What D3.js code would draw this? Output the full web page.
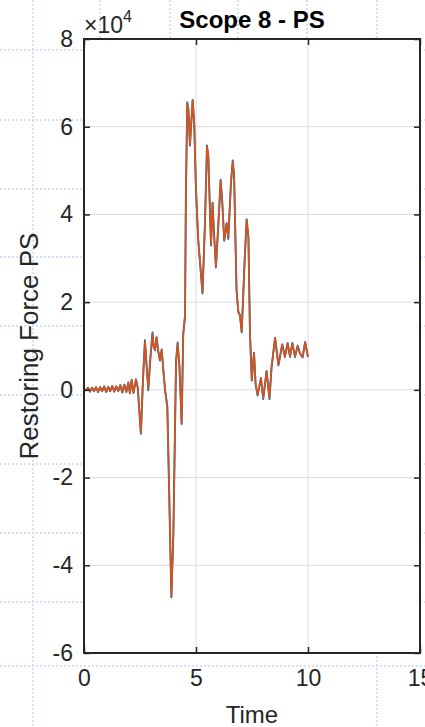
<!DOCTYPE html>
<html>
<head>
<meta charset="utf-8">
<script src="https://cdn.jsdelivr.net/npm/d3@7"></script>
<style>
    body { margin: 0; background: #ffffff; }
    #chart { width: 425px; height: 727px; }
    text { font-family: 'Liberation Sans', Arial, sans-serif; fill: #262626; }
</style>
</head>
<body>
<div id="chart"></div>
<script>
// Scope 8 - PS : restoring force vs time (values in N)
const timeValues = [0, 0.09, 0.18, 0.27, 0.36, 0.45, 0.54, 0.63, 0.72, 0.81, 0.90, 0.99, 1.08, 1.17, 1.26, 1.35, 1.44, 1.53, 1.62, 1.71, 1.80, 1.89, 1.98, 2.05, 2.13, 2.21, 2.32, 2.40, 2.54, 2.63, 2.72, 2.79, 2.87, 2.96, 3.06, 3.11, 3.17, 3.24, 3.31, 3.39, 3.47, 3.55, 3.62, 3.72, 3.81, 3.90, 3.99, 4.11, 4.18, 4.26, 4.36, 4.43, 4.51, 4.55, 4.61, 4.66, 4.73, 4.85, 4.92, 5.00, 5.10, 5.29, 5.40, 5.49, 5.55, 5.67, 5.74, 5.80, 5.89, 6.00, 6.10, 6.17, 6.26, 6.37, 6.44, 6.56, 6.64, 6.70, 6.81, 6.89, 6.96, 7.04, 7.16, 7.26, 7.34, 7.41, 7.49, 7.59, 7.66, 7.75, 7.90, 8.00, 8.15, 8.28, 8.37, 8.53, 8.68, 8.85, 8.97, 9.09, 9.20, 9.30, 9.42, 9.54, 9.64, 9.76, 9.87, 10.00];

// blue trace (first signal)
const forceBlue = [200, -100, 500, -400, 500, -300, 600, -500, 600, -300, 800, -500, 700, -300, 900, -400, 800, -300, 1100, -600, 1200, -500, 1700, -800, 2300, -700, 2400, 500, -10000, 2000, 11300, 6000, -100, 7000, 13100, 10000, 9000, 12000, 9000, 6700, 9200, 4000, -100, -3900, -25200, -47300, -32800, 6700, 10800, 5200, -7800, 12700, 17000, 45000, 65600, 64000, 55700, 66100, 60700, 45500, 34100, 22000, 38000, 55700, 53100, 32900, 42700, 36000, 27900, 38000, 47900, 43000, 34000, 38000, 34400, 47200, 52300, 49000, 22600, 17700, 17000, 13100, 28100, 38900, 34800, 12800, 2100, 8500, 1300, -1300, 2700, -2100, 4300, -2100, 5000, 11900, 5600, 10400, 7500, 10700, 7500, 10700, 7500, 10100, 8300, 7400, 10900, 7500];

// orange trace (second signal)
const forceOrange = [200, -100, 500, -400, 500, -300, 600, -500, 600, -300, 800, -500, 700, -300, 900, -400, 800, -200, 1100, -600, 1200, -500, 1700, -800, 2300, -700, 2400, 500, -9900, 2000, 11000, 6000, 200, 7000, 12900, 10000, 9100, 12000, 9000, 6800, 9100, 4000, 0, -3800, -25100, -47100, -32700, 6500, 10600, 5300, -7600, 12500, 16700, 44800, 65400, 64000, 55900, 66000, 60800, 45600, 34200, 22200, 38000, 55500, 53200, 33100, 42600, 36000, 28100, 38000, 47700, 43000, 34200, 38000, 34600, 47100, 52100, 49000, 22800, 17900, 17100, 13300, 28100, 38800, 34900, 12900, 2300, 8400, 1500, -1100, 2700, -1900, 4200, -1900, 4900, 11800, 5700, 10300, 7600, 10600, 7600, 10600, 7600, 10000, 8400, 7500, 10800, 7500];

const xTicks = [0, 5, 10, 15];
const yTicks = [-6, -4, -2, 0, 2, 4, 6, 8];

const chartTitle = 'Scope 8 - PS';
const xLabel = 'Time';
const yLabel = 'Restoring Force PS';

// faint dotted guide lines of the canvas behind the figure
const bgRows = [50, 120, 189, 257, 326, 395, 464, 533, 602, 666];
const bgCols = [33, 377];
const bgTopCols = [100, 170, 238, 307];

function drawChart() {
    const W = 425, H = 727;
    const box = {left: 84, right: 420, top: 39, bottom: 653};

    const svg = d3.select('#chart')
        .append('svg')
        .attr('width', W)
        .attr('height', H);

    // background guides
    const bg = svg.append('g')
        .attr('stroke', '#c9d6f6')
        .attr('stroke-width', 1.5)
        .attr('stroke-dasharray', '2,2');

    bgRows.forEach(y => {
        bg.append('line').attr('x1', 0).attr('x2', W).attr('y1', y).attr('y2', y);
    });
    bgCols.forEach(x => {
        bg.append('line').attr('x1', x).attr('x2', x).attr('y1', 0).attr('y2', H);
    });
    bgTopCols.forEach(x => {
        bg.append('line').attr('x1', x).attr('x2', x).attr('y1', 0).attr('y2', box.top);
    });

    // scales
    const x = d3.scaleLinear()
        .domain([0, 15])
        .range([box.left, box.right]);

    const y = d3.scaleLinear()
        .domain([-6e4, 8e4])
        .range([box.bottom, box.top]);

    // axes background
    svg.append('rect')
        .attr('x', box.left)
        .attr('y', box.top)
        .attr('width', box.right - box.left)
        .attr('height', box.bottom - box.top)
        .attr('fill', '#ffffff');

    // grid
    const grid = svg.append('g')
        .attr('stroke', '#dcdcdc')
        .attr('stroke-width', 1);

    xTicks.slice(1, -1).forEach(t => {
        grid.append('line')
            .attr('x1', x(t)).attr('x2', x(t))
            .attr('y1', box.top).attr('y2', box.bottom);
    });
    yTicks.slice(1, -1).forEach(t => {
        grid.append('line')
            .attr('x1', box.left).attr('x2', box.right)
            .attr('y1', y(t * 1e4)).attr('y2', y(t * 1e4));
    });

    // data lines
    const points = timeValues.map((t, i) => ({t: t, blue: forceBlue[i], orange: forceOrange[i]}));

    const lineBlue = d3.line()
        .x(d => x(d.t))
        .y(d => y(d.blue));

    const lineOrange = d3.line()
        .x(d => x(d.t))
        .y(d => y(d.orange));

    svg.append('path')
        .datum(points)
        .attr('d', lineBlue)
        .attr('fill', 'none')
        .attr('stroke', '#0072bd')
        .attr('stroke-width', 1.9)
        .attr('stroke-linejoin', 'round');

    svg.append('path')
        .datum(points)
        .attr('d', lineOrange)
        .attr('fill', 'none')
        .attr('stroke', '#d95319')
        .attr('stroke-width', 1.7)
        .attr('stroke-linejoin', 'round');

    // axes with inward ticks on all four sides
    const tickLen = 6;

    svg.append('g')
        .attr('class', 'axis')
        .attr('transform', `translate(0,${box.bottom})`)
        .call(d3.axisBottom(x).tickValues(xTicks).tickSizeInner(-tickLen).tickSizeOuter(0).tickPadding(17));

    svg.append('g')
        .attr('transform', `translate(0,${box.top})`)
        .call(d3.axisTop(x).tickValues(xTicks).tickSizeInner(-tickLen).tickSizeOuter(0).tickFormat(''));

    svg.append('g')
        .attr('class', 'axis')
        .attr('transform', `translate(${box.left},0)`)
        .call(d3.axisLeft(y).tickValues(yTicks.map(v => v * 1e4)).tickSizeInner(-tickLen).tickSizeOuter(0).tickPadding(11)
            .tickFormat(d => d / 1e4));

    svg.append('g')
        .attr('transform', `translate(${box.right},0)`)
        .call(d3.axisRight(y).tickValues(yTicks.map(v => v * 1e4)).tickSizeInner(-tickLen).tickSizeOuter(0).tickFormat(''));

    svg.selectAll('.domain').remove();
    svg.selectAll('.tick line').attr('stroke', '#262626').attr('stroke-width', 1.5);
    svg.selectAll('.axis .tick text')
        .style('font-size', '23px')
        .attr('fill', '#262626');

    // box outline
    svg.append('rect')
        .attr('x', box.left)
        .attr('y', box.top)
        .attr('width', box.right - box.left)
        .attr('height', box.bottom - box.top)
        .attr('fill', 'none')
        .attr('stroke', '#262626')
        .attr('stroke-width', 2);

    // exponent label
    const expo = svg.append('text')
        .attr('x', box.left)
        .attr('y', 33);
    expo.append('tspan')
        .style('font-size', '23px')
        .text('\u00d710');
    expo.append('tspan')
        .attr('dy', -11)
        .style('font-size', '16px')
        .text('4');

    // title
    svg.append('text')
        .attr('x', (box.left + box.right) / 2)
        .attr('y', 28)
        .attr('text-anchor', 'middle')
        .style('font-size', '24px')
        .style('font-weight', 'bold')
        .style('fill', '#000000')
        .text(chartTitle);

    // axis labels
    svg.append('text')
        .attr('x', (box.left + box.right) / 2)
        .attr('y', 723)
        .attr('text-anchor', 'middle')
        .style('font-size', '24px')
        .text(xLabel);

    svg.append('text')
        .attr('transform', `translate(38,${(box.top + box.bottom) / 2}) rotate(-90)`)
        .attr('text-anchor', 'middle')
        .style('font-size', '26px')
        .text(yLabel);
}

drawChart();
</script>
</body>
</html>
